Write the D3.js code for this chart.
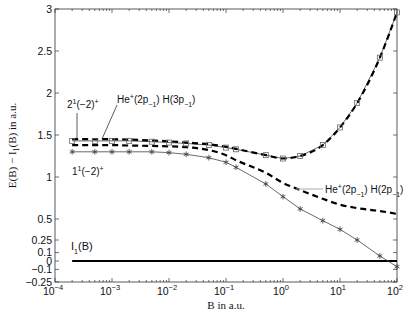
<!DOCTYPE html>
<html><head><meta charset="utf-8">
<script src="https://cdn.jsdelivr.net/npm/d3@7"></script>
<style>body{margin:0;background:#fff}svg{display:block}</style>
</head><body><svg id="c" width="407" height="314"></svg>
<script>
const B = [2e-4,5e-4,1e-3,2e-3,5e-3,1e-2,2e-2,5e-2,0.1,0.15,0.5,1,2,5,10,20,50,100];
const squares = [1.43,1.43,1.43,1.43,1.42,1.41,1.40,1.38,1.35,1.33,1.26,1.22,1.25,1.38,1.59,1.88,2.42,2.96];
const stars = [1.30,1.30,1.30,1.30,1.30,1.29,1.27,1.23,1.175,1.115,0.917,0.766,0.62,0.48,0.377,0.25,0.06,-0.068];
const dashedUpper = [1.45,1.45,1.45,1.445,1.435,1.425,1.41,1.39,1.36,1.335,1.26,1.22,1.25,1.38,1.59,1.88,2.42,2.96];
const dashedLower = [1.38,1.38,1.38,1.375,1.37,1.365,1.355,1.32,1.26,1.2,1.05,0.93,0.845,0.74,0.67,0.63,0.595,0.56];
const thresholdB = [2e-4,100];
const thresholdE = [0,0];
const xTicks = [1e-4,1e-3,1e-2,1e-1,1e0,1e1,1e2];
const xTickExp = ["−4","−3","−2","−1","0","1","2"];
const yTicks = [-0.25,-0.1,0,0.1,0.25,0.5,1,1.5,2,2.5,3];
const yTickLabels = ["−0.25","−0.1","0","0.1","0.25","0.5","1","1.5","2","2.5","3"];

const svg = d3.select("#c");
const L=55,R=397,T=9,Bt=282;
const x = d3.scaleLog().domain([1e-4,1e2]).range([L,R]);
const y = d3.scaleLinear().domain([-0.25,3]).range([Bt,T]);
const axisCol="#333";
const sans="'Liberation Sans',Arial,sans-serif", serif="'Liberation Serif','Times New Roman',serif";

const minor=[];
for(let k=-4;k<2;k++) for(let m=2;m<=9;m++) minor.push(m*Math.pow(10,k));
const g=svg.append("g");
minor.forEach(v=>{
  g.append("line").attr("x1",x(v)).attr("x2",x(v)).attr("y1",Bt).attr("y2",Bt-2).attr("stroke",axisCol).attr("stroke-width",0.7);
  g.append("line").attr("x1",x(v)).attr("x2",x(v)).attr("y1",T).attr("y2",T+2).attr("stroke",axisCol).attr("stroke-width",0.7);
});
xTicks.forEach((v,i)=>{
  g.append("line").attr("x1",x(v)).attr("x2",x(v)).attr("y1",Bt).attr("y2",Bt-4).attr("stroke",axisCol).attr("stroke-width",0.7);
  g.append("line").attr("x1",x(v)).attr("x2",x(v)).attr("y1",T).attr("y2",T+4).attr("stroke",axisCol).attr("stroke-width",0.7);
  const t=g.append("text").attr("x",x(v)-2).attr("y",Bt+13).attr("text-anchor","middle").attr("font-family",sans).attr("font-size",10.5).attr("fill","#111");
  t.append("tspan").text("10");
  t.append("tspan").attr("dy",-5).attr("font-size",7.5).text(xTickExp[i]);
});
yTicks.forEach((v,i)=>{
  g.append("line").attr("x1",L).attr("x2",L+4).attr("y1",y(v)).attr("y2",y(v)).attr("stroke",axisCol).attr("stroke-width",0.7);
  g.append("line").attr("x1",R).attr("x2",R-4).attr("y1",y(v)).attr("y2",y(v)).attr("stroke",axisCol).attr("stroke-width",0.7);
  g.append("text").attr("x",L-3).attr("y",y(v)+3.5).attr("text-anchor","end").attr("font-family",sans).attr("font-size",10.5).attr("fill","#111").text(yTickLabels[i]);
});
svg.append("rect").attr("x",L).attr("y",T).attr("width",R-L).attr("height",Bt-T).attr("fill","none").attr("stroke",axisCol).attr("stroke-width",0.8);

const lineS = d3.line().x(d=>x(d[0])).y(d=>y(d[1]));
const lineC = d3.line().x(d=>x(d[0])).y(d=>y(d[1])).curve(d3.curveMonotoneX);
const zip=(a,b)=>a.map((v,i)=>[v,b[i]]);
svg.append("path").attr("d",lineS(zip(thresholdB,thresholdE))).attr("stroke","#000").attr("stroke-width",2.2).attr("fill","none");
svg.append("path").attr("d",lineS(zip(B,stars))).attr("stroke","#444").attr("stroke-width",0.8).attr("fill","none");
svg.append("path").attr("d",lineS(zip(B,squares))).attr("stroke","#444").attr("stroke-width",0.8).attr("fill","none");
svg.append("path").attr("d",lineC(zip(B,dashedLower))).attr("stroke","#000").attr("stroke-width",2.2).attr("stroke-dasharray","6,4").attr("fill","none");
svg.append("path").attr("d",lineC(zip(B,dashedUpper))).attr("stroke","#000").attr("stroke-width",2.2).attr("stroke-dasharray","6,4").attr("fill","none");
svg.selectAll(".sq").data(zip(B,squares)).enter().append("rect").attr("x",d=>x(d[0])-2.5).attr("y",d=>y(d[1])-2.5).attr("width",5).attr("height",5).attr("fill","none").attr("stroke","#666").attr("stroke-width",0.8);
const star=d3.symbol().type(d3.symbolAsterisk).size(22);
svg.selectAll(".st").data(zip(B,stars)).enter().append("path").attr("d",star).attr("transform",d=>`translate(${x(d[0])},${y(d[1])})`).attr("fill","none").attr("stroke","#444").attr("stroke-width",0.9);

function lbl(xp,yp,parts,fs){
  const t=svg.append("text").attr("x",xp).attr("y",yp).attr("font-family",sans).attr("font-size",fs||10).attr("fill","#111");
  parts.forEach(p=>{
    const s=t.append("tspan").text(p[0]);
    if(p[1]==="sup") s.attr("dy",-4).attr("font-size",7);
    else if(p[1]==="sub") s.attr("dy",4).attr("font-size",7);
    if(p[2]) s.attr("dy",p[2]);
  });
  return t;
}
lbl(67,108,[["2"],["1","sup"],["(−2)",null,4],["+","sup"]]);
svg.append("line").attr("x1",77).attr("x2",77).attr("y1",113).attr("y2",139).attr("stroke","#333").attr("stroke-width",0.8);
lbl(117,103,[["He"],["+","sup"],["(2p",null,4],["−1","sub"],[")",null,-4],[" H(3p"],["−1","sub"],[")",null,-4]]);
svg.append("line").attr("x1",117).attr("x2",102).attr("y1",105).attr("y2",139).attr("stroke","#333").attr("stroke-width",0.8);
lbl(72,175,[["1"],["1","sup"],["(−2)",null,4],["+","sup"]]);
lbl(71,250,[["I"],["1","sub"],["(B)",null,-4]],11);
svg.append("line").attr("x1",296).attr("x2",323).attr("y1",189).attr("y2",189).attr("stroke","#aaa").attr("stroke-width",1);
lbl(325,193,[["He"],["+","sup"],["(2p",null,4],["−1","sub"],[")",null,-4],[" H(2p"],["−1","sub"],[")",null,-4]]);

svg.append("text").attr("x",(L+R)/2).attr("y",309).attr("text-anchor","middle").attr("font-family",serif).attr("font-size",11).attr("fill","#111").text("B in a.u.");
const yl=svg.append("text").attr("transform",`translate(16,${(T+Bt)/2}) rotate(-90)`).attr("text-anchor","middle").attr("font-family",serif).attr("font-size",11).attr("fill","#111");
yl.append("tspan").text("E(B) − I");
yl.append("tspan").attr("dy",3).attr("font-size",8).text("1");
yl.append("tspan").attr("dy",-3).text("(B) in a.u.");
</script></body></html>
